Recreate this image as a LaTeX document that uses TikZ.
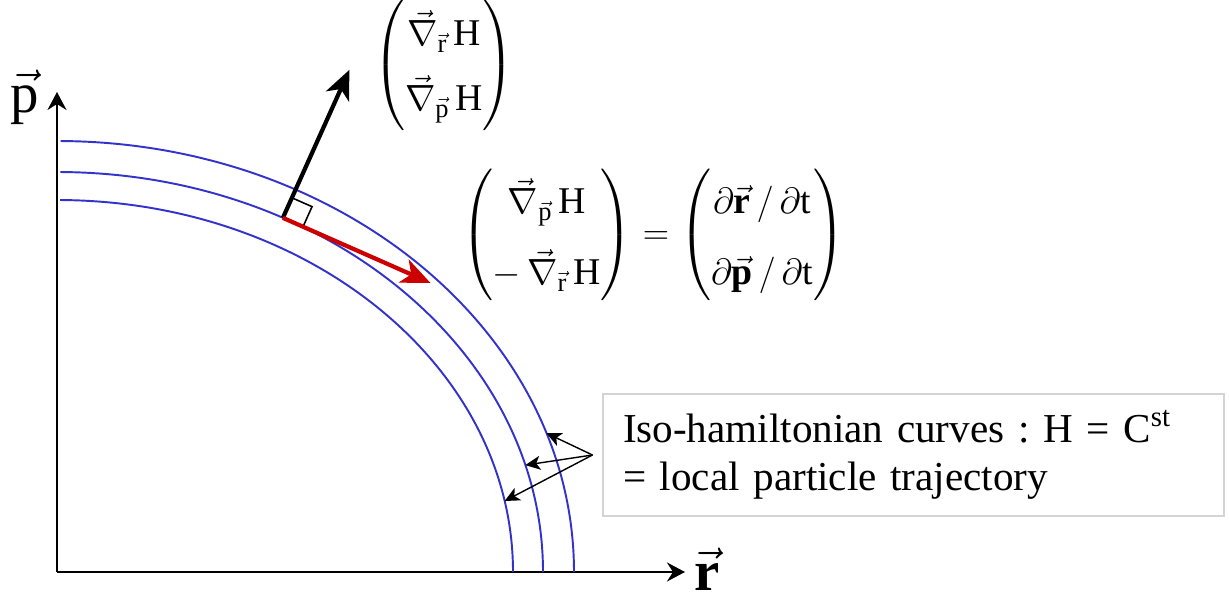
\documentclass[tikz,border=0pt]{standalone}
\usepackage{amsmath}
\usepackage{fontspec}
\setmainfont{Liberation Serif}
\setmathrm{Liberation Serif}
\newfontfamily\timesfont{Liberation Serif}
\usetikzlibrary{arrows.meta,calc}
\definecolor{isoblue}{RGB}{51,51,204}
\definecolor{tanred}{RGB}{204,0,0}
\definecolor{boxgray}{RGB}{212,212,212}

\begin{document}
\begin{tikzpicture}[
  axisline/.style={-{Stealth[length=3.6mm, width=3.8mm, inset=1.2mm]}, line width=1.1pt},
  iso/.style={draw=isoblue, line width=1.1pt},
  vecarr/.style={-{Stealth[length=5.8mm, width=5mm, inset=1.6mm]}, line width=2.4pt},
  pointer/.style={-{Stealth[length=3mm, width=2.8mm, inset=0.8mm]}, line width=0.8pt},
  eqn/.style={font=\timesfont\fontsize{21.5}{26}\selectfont},
  huge/.style={font=\timesfont\fontsize{24.88}{30}\selectfont, scale=1.3}
]
\useasboundingbox (-1.14,-0.56) rectangle (23.44,11.44);

\coordinate (o) at (0,0);
\coordinate (ytip) at (0,9.6);
\coordinate (xtip) at (12.56,0);
\draw[axisline] (o) -- (ytip);
\draw[axisline] (o) -- (xtip);
\node[huge] (plab) at (-0.64,9.5) {$\vec{\mathrm{p}}$};
\node[huge] (rlab) at (13,0.06) {$\vec{\mathbf{r}}$};

\draw[iso] (89.6:9.12cm and 7.44cm) arc[start angle=89.6, end angle=0, x radius=9.12cm, y radius=7.44cm];
\draw[iso] (89.6:9.72cm and 8cm) arc[start angle=89.6, end angle=0, x radius=9.72cm, y radius=8cm];
\draw[iso] (89.6:10.34cm and 8.62cm) arc[start angle=89.6, end angle=0, x radius=10.34cm, y radius=8.62cm];

\coordinate (hin) at (11:9.12cm and 7.44cm);
\coordinate (hmid) at (15.5:9.72cm and 8cm);
\coordinate (hout) at (18.8:10.34cm and 8.62cm);
\coordinate (base) at (62.3:9.72cm and 8cm);
\coordinate (nrm) at ($(base)+(1.33,2.96)$);
\coordinate (tng) at ($(base)+(2.95,-1.3)$);

\coordinate (sqa) at ($(base)!0.44cm!(nrm)$);
\coordinate (sqb) at ($(base)!0.44cm!(tng)$);
\draw[line width=0.9pt] (sqa) -- ($(sqa)+(sqb)-(base)$) -- (sqb);
\draw[vecarr] (base) -- (nrm);
\draw[vecarr, tanred] (base) -- (tng);

\node[eqn] (grad) at (7.74,10.14) {$\delimiterfactor=850\delimitershortfall=20pt\def\arraystretch{1.42}\begin{pmatrix} \vec{\nabla}_{\vec{\mathrm{r}}}\,\mathrm{H}\\ \vec{\nabla}_{\vec{\mathrm{p}}}\,\mathrm{H}\end{pmatrix}$};
\node[eqn] (hameq) at (11.92,6.74) {$\delimiterfactor=850\delimitershortfall=20pt\def\arraystretch{1.54}\begin{pmatrix} \vec{\nabla}_{\vec{\mathrm{p}}}\,\mathrm{H}\\ -\,\vec{\nabla}_{\vec{\mathrm{r}}}\,\mathrm{H}\end{pmatrix} = \begin{pmatrix}\partial\vec{\mathbf{r}}\,/\,\partial\mathrm{t}\\ \partial\vec{\mathbf{p}}\,/\,\partial\mathrm{t}\end{pmatrix}$};

\node[draw=boxgray, line width=0.6pt, minimum width=12.42cm, minimum height=2.44cm, text width=11.62cm, inner xsep=0.4cm, align=left, font=\timesfont\fontsize{23.4}{27.2}\selectfont\frenchspacing] (note) at (17.13,2.34) {Iso-hamiltonian curves : H = C\textsuperscript{st}\\= local particle trajectory};

\coordinate (fan) at ([xshift=-0.2cm]note.west);
\foreach \c in {hout,hmid,hin}
  \draw[pointer] (fan) -- (\c);
\end{tikzpicture}
\end{document}
